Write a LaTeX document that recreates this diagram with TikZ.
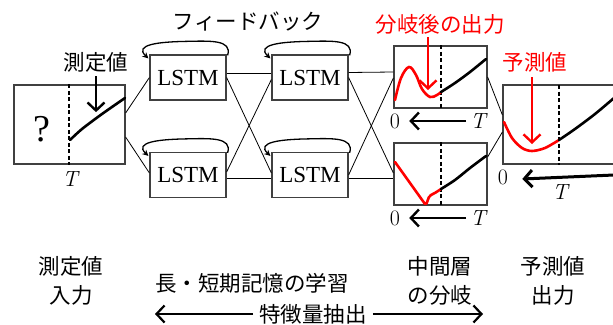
\documentclass[tikz,border=0pt]{standalone}
\usepackage{fontspec}
\setmainfont{Liberation Serif}
\newfontfamily\jp{Noto Sans CJK JP}
\newfontfamily\lmr{Latin Modern Roman}
\usetikzlibrary{arrows.meta,calc}
\begin{document}
\begin{tikzpicture}[x=1pt,y=-1pt,
  frame/.style={draw=black!75,line width=1.2pt,inner sep=0pt},
  lstm/.style={frame,minimum width=76pt,minimum height=45pt,font=\fontsize{23}{26}\selectfont},
  plotbox/.style={frame,minimum width=#1,minimum height=62pt},
  conn/.style={line width=0.8pt},
  fbk/.style={line width=1.3pt,-{Stealth[length=6pt,width=6pt]}},
  curve/.style={line width=2.6pt,line cap=round},
  tline/.style={line width=1.3pt,dash pattern=on 4pt off 2.5pt},
  bigarr/.style={line width=2.4pt,-{Straight Barb[length=8pt,width=17pt]}},
  jlabel/.style={font=\jp\fontsize{21.5}{29}\selectfont,align=center,inner sep=0pt},
  mlabel/.style={font=\lmr\fontsize{22}{24}\selectfont,inner sep=0pt}]
\clip (0,0) rectangle (613,324);
\fill[white] (0,0) rectangle (613,324);

% boxes
\node[frame,minimum width=111pt,minimum height=79pt] (in) at (69.5,124.5) {};
\node[lstm] (L1) at (188,77.5) {LSTM};
\node[lstm] (L2) at (188,175) {LSTM};
\node[lstm] (L3) at (310,77.5) {LSTM};
\node[lstm] (L4) at (310,175) {LSTM};
\node[plotbox=93pt] (B1) at (440.5,77) {};
\node[plotbox=93pt] (B2) at (440.5,174) {};
\node[frame,minimum width=140pt,minimum height=79pt] (out) at (573,124.5) {};

% connectors
\draw[conn] ([yshift=11.5pt]in.east) -- (L1.west);
\draw[conn] ([yshift=-12.5pt]in.east) -- ([yshift=2pt]L2.west);
\draw[conn] ([yshift=4pt]L1.east) -- ([yshift=4pt]L3.west);
\draw[conn] (L1.east) -- ([yshift=2pt]L4.west);
\draw[conn] ([yshift=3pt]L2.east) -- ([yshift=-2pt]L3.west);
\draw[conn] ([yshift=-3pt]L2.east) -- ([yshift=-3pt]L4.west);
\draw[conn] ([yshift=5pt]L3.east) -- ([yshift=5pt]B1.west);
\draw[conn] (L3.east) -- ([yshift=1pt]B2.west);
\draw[conn] (L4.east) -- ([yshift=-1pt]B1.west);
\draw[conn] ([yshift=-3pt]L4.east) -- ([yshift=-4pt]B2.west);
\draw[conn] (B1.east) -- ([yshift=9.5pt]out.west);
\draw[conn] ([yshift=17pt]B2.east) -- ([yshift=-7.5pt]out.west);

% feedback arcs
\foreach \n in {L1,L2,L3,L4}{
  \draw[fbk] ([xshift=1pt,yshift=-1pt]\n.north east) .. controls ($(\n.north east)+(6,-15)$) and ($(\n.north)+(22,-13.5)$) .. ($(\n.north)+(-3,-13)$)
    .. controls ($(\n.north)+(-28,-12.5)$) and ($(\n.north west)+(-16,-10)$) .. ([xshift=-1pt,yshift=-4pt]\n.north west);
}

% dashed time lines
\draw[tline] (in.north) ++(-0.5,0) coordinate (d1) -- (d1 |- in.south);
\draw[tline] (B1.north) ++(0.5,0) coordinate (d2) -- (d2 |- B1.south);
\draw[tline] (B2.north) ++(0.5,0) coordinate (d3) -- (d3 |- B2.south);
\draw[tline] (559,85) coordinate (d4) -- (d4 |- out.south);

% curves
\draw[curve] plot[smooth] coordinates {(70,140) (82,129) (102,114) (125,98)};
\draw[curve,red] plot[smooth,tension=0.6] coordinates {(395,100) (401,78) (409,67) (416,75) (422,89) (430,97) (437,95) (441,92)};
\draw[curve] plot[smooth] coordinates {(441,92) (455,83) (470,72) (486,59)};
\draw[curve,red,line join=round] (395,162) -- (425,204) .. controls (428,205) and (427,197) .. (431,195) .. controls (435,193) .. (441,189);
\draw[curve] plot[smooth] coordinates {(441,189) (455,180) (470,168) (486,156)};
\draw[curve,red] plot[smooth] coordinates {(504,122) (512,138) (522,148) (532,151) (545,148) (559,140)};
\draw[curve] plot[smooth] coordinates {(559,140) (575,129) (595,114) (614,98)};

% axis labels and arrows
\node[font=\fontsize{38}{40}\selectfont,inner sep=0pt] (q) at (42,129) {?};
\node[mlabel] (tin) at (70,179) {\itshape T};
\node[mlabel] (z1) at (395,121) {0};
\node[mlabel] (t1) at (478,121) {\itshape T};
\node[mlabel] (z2) at (395,218) {0};
\node[mlabel] (t2) at (478,218) {\itshape T};
\node[mlabel] (z3) at (503,177) {0};
\node[mlabel] (t3) at (560,192) {\itshape T};
\draw[bigarr] ([xshift=-4pt]t1.west) -- ([xshift=9pt]z1.east);
\draw[bigarr] ([xshift=-4pt]t2.west) -- ([xshift=9pt]z2.east);
\coordinate (oe) at (614,175);
\draw[bigarr,line width=3pt] (oe) -- ([xshift=14pt,yshift=-2pt]z3.east);

% labels
\node[jlabel] (meas) at (96,62) {測定値};
\draw[bigarr] ([yshift=-4pt]meas.south) -- ++(0,36);
\node[jlabel] (fb) at (248,22) {フィードバック};
\node[jlabel,text=red] (bout) at (440,24) {分岐後の出力};
\draw[bigarr,red] (428,37) coordinate (ba) -- (ba |- 0,90);
\node[jlabel,text=red] (pred) at (535,62) {予測値};
\draw[bigarr,red] (532,77) coordinate (pa) -- (pa |- 0,144);

\node[jlabel] (c1) at (71,281) {測定値\\入力};
\node[jlabel] (c2) at (252,283) {長・短期記憶の学習};
\node[jlabel] (c3) at (440,281) {中間層\\の分岐};
\node[jlabel] (c4) at (553,281) {予測値\\出力};
\node[jlabel] (feat) at (313,314) {特徴量抽出};
\draw[bigarr,line width=2.2pt] ([xshift=-6pt]feat.west) -- (155,314);
\draw[bigarr,line width=2.2pt] ([xshift=6pt]feat.east) -- (483,314);
\end{tikzpicture}
\end{document}
